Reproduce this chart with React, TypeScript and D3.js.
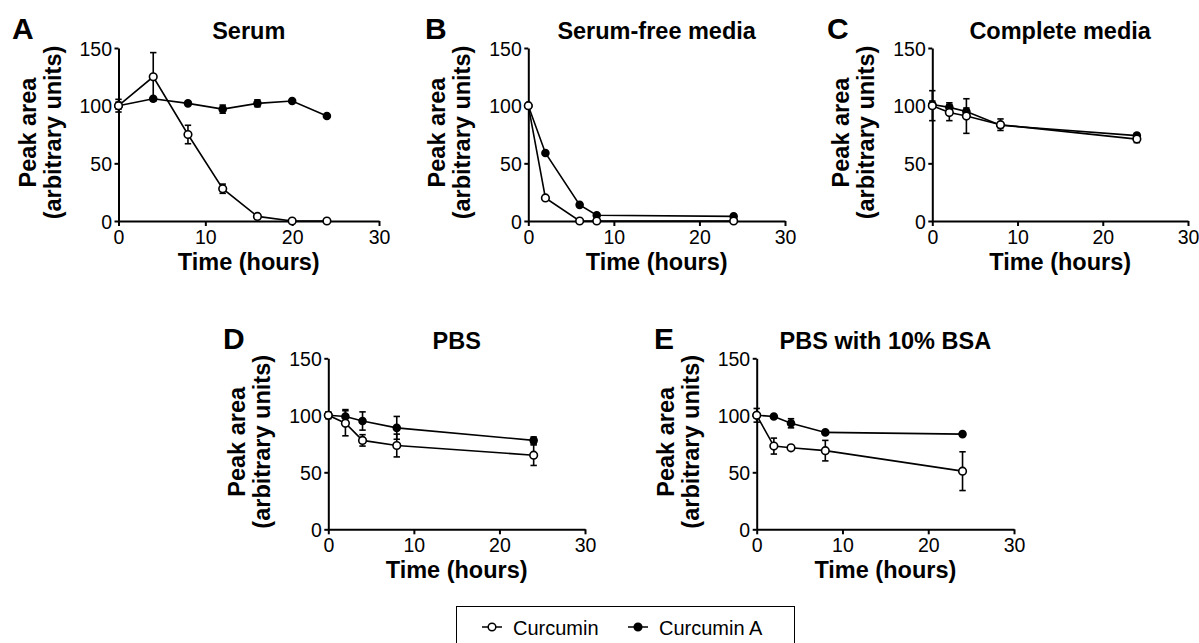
import * as React from "react"
import * as d3 from "d3"

// time points (hours) per panel
const hoursSerum = [0, 4, 8, 12, 16, 20, 24]
const hoursSerumFree = [0, 2, 6, 8, 24]
const hoursComplete = [0, 2, 4, 8, 24]
const hoursPbs = [0, 2, 4, 8, 24]
const hoursBsa = [0, 2, 4, 8, 24]

// A. Serum
const serumCurcumin = [100, 125, 75, 28, 4, 0, 0]
const serumCurcuminErr = [3, 21, 8, 4, 0, 0, 0]
const serumCurcuminA = [100, 106, 102, 97, 102, 104, 91]
const serumCurcuminAErr = [5.5, 0, 0, 3.5, 3, 0, 0]

// B. Serum-free media
const serumFreeCurcumin = [100, 20, 0, 0, 0]
const serumFreeCurcuminErr = [0, 0, 0, 0, 0]
const serumFreeCurcuminA = [100, 59, 14, 5, 4]
const serumFreeCurcuminAErr = [0, 0, 0, 0, 0]

// C. Complete media
const completeCurcumin = [100, 94, 91, 83.5, 71]
const completeCurcuminErr = [13, 7, 15, 5, 3]
const completeCurcuminA = [101, 98.5, 95, 83, 74]
const completeCurcuminAErr = [3, 4, 3, 2, 2]

// D. PBS
const pbsCurcumin = [100, 93, 78, 73.5, 65]
const pbsCurcuminErr = [3, 11, 5, 10, 9]
const pbsCurcuminA = [100, 99, 95, 89, 78]
const pbsCurcuminAErr = [2, 6, 8, 10, 3]

// E. PBS with 10% BSA
const bsaCurcumin = [100, 73, 71.5, 69, 51]
const bsaCurcuminErr = [6, 7, 0, 9, 17]
const bsaCurcuminA = [100, 99, 93, 85, 83.5]
const bsaCurcuminAErr = [2, 0, 4, 0, 0]

const xTicks = [0, 10, 20, 30]
const yTicks = [0, 50, 100, 150]
const seriesNames = ["Curcumin", "Curcumin A"]

const FONT = "'Liberation Sans', Arial, Helvetica, sans-serif"
const R = 3.8

interface Panel {
  letter: string
  title: string
  hours: number[]
  cur: number[]
  curErr: number[]
  curA: number[]
  curAErr: number[]
  x0: number
  x1: number
  yTop: number
  yBot: number
  headY: number
  letterX: number
}

const panels: Panel[] = [
  {
    letter: "A", title: "Serum", hours: hoursSerum,
    cur: serumCurcumin, curErr: serumCurcuminErr, curA: serumCurcuminA, curAErr: serumCurcuminAErr,
    x0: 118.5, x1: 379, yTop: 48, yBot: 221, headY: 39, letterX: 12,
  },
  {
    letter: "B", title: "Serum-free media", hours: hoursSerumFree,
    cur: serumFreeCurcumin, curErr: serumFreeCurcuminErr, curA: serumFreeCurcuminA, curAErr: serumFreeCurcuminAErr,
    x0: 528.3, x1: 785, yTop: 48, yBot: 221, headY: 39, letterX: 425,
  },
  {
    letter: "C", title: "Complete media", hours: hoursComplete,
    cur: completeCurcumin, curErr: completeCurcuminErr, curA: completeCurcuminA, curAErr: completeCurcuminAErr,
    x0: 932.3, x1: 1188, yTop: 48, yBot: 221, headY: 39, letterX: 827,
  },
  {
    letter: "D", title: "PBS", hours: hoursPbs,
    cur: pbsCurcumin, curErr: pbsCurcuminErr, curA: pbsCurcuminA, curAErr: pbsCurcuminAErr,
    x0: 328.3, x1: 585, yTop: 358.3, yBot: 529.3, headY: 349, letterX: 223,
  },
  {
    letter: "E", title: "PBS with 10% BSA", hours: hoursBsa,
    cur: bsaCurcumin, curErr: bsaCurcuminErr, curA: bsaCurcuminA, curAErr: bsaCurcuminAErr,
    x0: 756.7, x1: 1014, yTop: 358.3, yBot: 529.3, headY: 349, letterX: 654,
  },
]

function drawPanel(root: d3.Selection<SVGGElement, unknown, null, undefined>, p: Panel) {
  const g = root.append("g").attr("class", "panel")
  const x = d3.scaleLinear().domain([0, 30]).range([p.x0, p.x1])
  const y = d3.scaleLinear().domain([0, 150]).range([p.yBot, p.yTop])

  // x axis
  const xa = g
    .append("g")
    .attr("transform", `translate(0,${p.yBot})`)
    .call(d3.axisBottom(x).tickValues(xTicks).tickSize(5).tickSizeOuter(0))
  xa.select(".domain").attr("stroke", "#000").attr("stroke-width", 2)
  xa.selectAll(".tick line").attr("stroke", "#000").attr("stroke-width", 2)
  xa.selectAll(".tick text")
    .attr("y", 22.5)
    .attr("dy", null)
    .attr("fill", "#000")
    .attr("font-size", 19.5)
    .attr("font-family", FONT)

  // y axis
  const ya = g
    .append("g")
    .attr("transform", `translate(${p.x0},0)`)
    .call(d3.axisLeft(y).tickValues(yTicks).tickSize(4).tickSizeOuter(0))
  ya.select(".domain").attr("stroke", "#000").attr("stroke-width", 2)
  ya.selectAll(".tick line").attr("stroke", "#000").attr("stroke-width", 2)
  ya.selectAll(".tick text")
    .attr("x", -6.5)
    .attr("dy", "0.36em")
    .attr("fill", "#000")
    .attr("font-size", 19.5)
    .attr("font-family", FONT)

  // axis titles
  g.append("text")
    .attr("x", (p.x0 + p.x1) / 2)
    .attr("y", p.yBot + 49)
    .attr("text-anchor", "middle")
    .attr("font-family", FONT)
    .attr("font-weight", "bold")
    .attr("font-size", 23.5)
    .text("Time (hours)")

  const yc = (p.yTop + p.yBot) / 2 - 2
  g.append("text")
    .attr("transform", `translate(${p.x0 - 83},${yc}) rotate(-90)`)
    .attr("text-anchor", "middle")
    .attr("font-family", FONT)
    .attr("font-weight", "bold")
    .attr("font-size", 23.5)
    .text("Peak area")
  g.append("text")
    .attr("transform", `translate(${p.x0 - 58},${yc}) rotate(-90)`)
    .attr("text-anchor", "middle")
    .attr("font-family", FONT)
    .attr("font-weight", "bold")
    .attr("font-size", 23.5)
    .text("(arbitrary units)")

  // panel title and letter
  g.append("text")
    .attr("x", (p.x0 + p.x1) / 2)
    .attr("y", p.headY)
    .attr("text-anchor", "middle")
    .attr("font-family", FONT)
    .attr("font-weight", "bold")
    .attr("font-size", 23.5)
    .text(p.title)
  g.append("text")
    .attr("x", p.letterX)
    .attr("y", p.headY)
    .attr("font-family", FONT)
    .attr("font-weight", "bold")
    .attr("font-size", 30)
    .text(p.letter)

  const series = [
    { vals: p.curA, err: p.curAErr, open: false },
    { vals: p.cur, err: p.curErr, open: true },
  ]
  const line = d3
    .line<number>()
    .x((_d, i) => x(p.hours[i]))
    .y((d) => y(d))

  series.forEach((s) => {
    const pts = s.vals.map((v, i) => ({ t: p.hours[i], v, e: s.err[i] }))
    const sg = g.append("g")
    const eb = sg
      .selectAll(".err")
      .data(pts.filter((d) => d.e > 0))
      .join("g")
      .attr("class", "err")
      .attr("stroke", "#000")
      .attr("stroke-width", 1.6)
    eb.append("line")
      .attr("x1", (d) => x(d.t))
      .attr("x2", (d) => x(d.t))
      .attr("y1", (d) => y(d.v - d.e))
      .attr("y2", (d) => y(d.v + d.e))
    eb.append("line")
      .attr("x1", (d) => x(d.t) - 3.2)
      .attr("x2", (d) => x(d.t) + 3.2)
      .attr("y1", (d) => y(d.v + d.e))
      .attr("y2", (d) => y(d.v + d.e))
    eb.append("line")
      .attr("x1", (d) => x(d.t) - 3.2)
      .attr("x2", (d) => x(d.t) + 3.2)
      .attr("y1", (d) => y(d.v - d.e))
      .attr("y2", (d) => y(d.v - d.e))

    sg.append("path")
      .attr("d", line(s.vals))
      .attr("fill", "none")
      .attr("stroke", "#000")
      .attr("stroke-width", 1.6)

    sg.selectAll(".pt")
      .data(pts)
      .join("circle")
      .attr("class", "pt")
      .attr("cx", (d) => x(d.t))
      .attr("cy", (d) => y(d.v))
      .attr("r", s.open ? R : R - 0.3)
      .attr("fill", s.open ? "#fff" : "#000")
      .attr("stroke", "#000")
      .attr("stroke-width", 1.6)
  })
}

function render(svgRef: React.RefObject<SVGSVGElement>) {
  const svg = d3.select(svgRef.current)
  svg.selectAll("*").remove()
  const root = svg.append("g")

  panels.forEach((p) => drawPanel(root, p))

  // legend
  const lg = root.append("g").attr("class", "legend")
  lg.append("rect")
    .attr("x", 456.5)
    .attr("y", 606.5)
    .attr("width", 338)
    .attr("height", 50)
    .attr("fill", "none")
    .attr("stroke", "#000")
    .attr("stroke-width", 1)

  const items = [
    { name: seriesNames[0], open: true, x: 482 },
    { name: seriesNames[1], open: false, x: 628 },
  ]
  const ly = 627
  items.forEach((it) => {
    lg.append("line")
      .attr("x1", it.x)
      .attr("x2", it.x + 20)
      .attr("y1", ly)
      .attr("y2", ly)
      .attr("stroke", "#000")
      .attr("stroke-width", 1.5)
    lg.append("circle")
      .attr("cx", it.x + 10)
      .attr("cy", ly)
      .attr("r", R)
      .attr("fill", it.open ? "#fff" : "#000")
      .attr("stroke", "#000")
      .attr("stroke-width", 1.5)
    lg.append("text")
      .attr("x", it.x + 31)
      .attr("y", 634.5)
      .attr("font-family", FONT)
      .attr("font-size", 20)
      .attr("fill", "#000")
      .text(it.name)
  })
}

export default function App(): React.JSX.Element {
  const svg = React.useRef<SVGSVGElement>(null)

  React.useEffect(() => {
    render(svg)
  }, [])

  return (
    <svg
      ref={svg}
      width={1199}
      height={643}
      style={{ position: "absolute", left: 0, top: 0, background: "#fff" }}
    ></svg>
  )
}
